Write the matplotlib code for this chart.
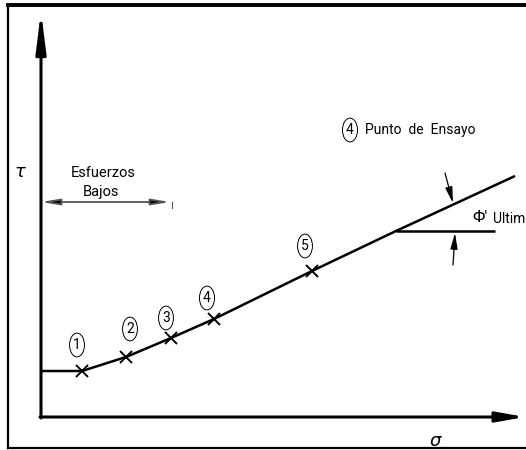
import matplotlib
matplotlib.use("Agg")
import matplotlib.pyplot as plt
from matplotlib.lines import Line2D

# Test points (normal stress sigma, shear stress tau), arbitrary units
sigma_pts = [4.1, 8.5, 13.0, 17.3, 27.1]
tau_pts = [4.6, 6.0, 7.9, 9.8, 14.6]
point_labels = ["1", "2", "3", "4", "5"]

# Failure envelope traced through the test points
sigma_env = [0.0, 4.1, 8.5, 13.0, 17.3, 27.1, 35.5, 47.4]
tau_env = [4.6, 4.6, 6.0, 7.9, 9.8, 14.6, 18.6, 24.1]

# Reference horizontal for the ultimate friction angle
phi_sigma = [35.5, 45.4]
phi_tau = [18.6, 18.6]

# Extent of the low-stress range
low_stress_range = [0.0, 12.9]

FONT = dict(family=["Roboto", "DejaVu Sans"])

fig = plt.figure(figsize=(5.26, 4.5), dpi=100)
ax = fig.add_axes([0, 0, 1, 1])
ax.set_xlim(-4.1, 48.5)
ax.set_ylim(-3.3, 41.7)
ax.axis("off")

# outer drawing frame
fig.add_artist(Line2D([8 / 526, 1.0], [1 - 4.5 / 450] * 2, transform=fig.transFigure,
                      color="black", lw=2.8))
fig.add_artist(Line2D([8 / 526] * 2, [1 - 4.5 / 450, 1 - 448 / 450], transform=fig.transFigure,
                      color="black", lw=1.6))
fig.add_artist(Line2D([8 / 526, 1.0], [1 - 448 / 450] * 2, transform=fig.transFigure,
                      color="black", lw=1.6))

# coordinate axes with arrowheads
ax.annotate("", xy=(0, 40.6), xytext=(0, -0.1),
            arrowprops=dict(arrowstyle="-|>,head_length=2.0,head_width=0.25",
                            lw=2.2, color="black", shrinkA=0, shrinkB=0,
                            mutation_scale=12))
ax.annotate("", xy=(48.4, 0), xytext=(-0.1, 0),
            arrowprops=dict(arrowstyle="-|>,head_length=1.4,head_width=0.25",
                            lw=2.2, color="black", shrinkA=0, shrinkB=0,
                            mutation_scale=12))
ax.text(-2.1, 24.5, r"$\tau$", fontsize=13, ha="center", va="center")
ax.text(39.5, -2.4, r"$\sigma$", fontsize=13, ha="center", va="center")

# envelope and test points
ax.plot(sigma_env, tau_env, color="black", lw=1.8, solid_capstyle="butt")
ax.plot(sigma_pts, tau_pts, ls="none", marker="x", ms=9, mew=1.4, color="black")

label_offsets = [(-0.5, 2.6), (0.4, 2.8), (-0.5, 2.0), (-0.7, 2.1), (-0.7, 2.5)]
for s, t, lab, (dx, dy) in zip(sigma_pts, tau_pts, point_labels, label_offsets):
    ax.text(s + dx, t + dy, lab, fontsize=10, ha="center", va="center", **FONT,
            bbox=dict(boxstyle="ellipse,pad=0.1", fc="white", ec="black", lw=0.7))

# legend note
ax.text(30.9, 28.7, "4", fontsize=10, ha="center", va="center", **FONT,
        bbox=dict(boxstyle="ellipse,pad=0.1", fc="white", ec="black", lw=0.7))
ax.text(32.4, 28.7, "Punto  de  Ensayo", fontsize=10, ha="left", va="center", **FONT)

# low-stress range annotation
ax.annotate("", xy=(low_stress_range[1], 21.5), xytext=(low_stress_range[0], 21.5),
            arrowprops=dict(arrowstyle="<|-|>,head_length=0.9,head_width=0.15",
                            lw=1.3, color="#555555", fc="black", shrinkA=0, shrinkB=0,
                            mutation_scale=12))
ax.plot([13.1, 13.1], [21.5, 20.9], color="#555555", lw=0.8)
ax.text(6.2, 24.4, "Esfuerzos", fontsize=10.5, ha="center", va="center", **FONT)
ax.text(6.0, 22.5, "Bajos", fontsize=10.5, ha="center", va="center", **FONT)

# ultimate friction angle
ax.plot(phi_sigma, phi_tau, color="black", lw=1.8, solid_capstyle="butt")
ax.annotate("", xy=(41.2, 21.4), xytext=(40.4, 24.4),
            arrowprops=dict(arrowstyle="-|>,head_length=0.8,head_width=0.18",
                            lw=0.9, color="black", shrinkA=0, shrinkB=0,
                            mutation_scale=12))
ax.annotate("", xy=(41.4, 18.4), xytext=(41.2, 15.2),
            arrowprops=dict(arrowstyle="-|>,head_length=0.8,head_width=0.18",
                            lw=0.9, color="black", shrinkA=0, shrinkB=0,
                            mutation_scale=12))
ax.text(43.1, 19.9, "\u03a6'", fontsize=12.5, ha="left", va="center", **FONT)
ax.text(45.2, 19.8, "Ultimo", fontsize=10, ha="left", va="center", **FONT)

fig.savefig("out.png", dpi=100)
